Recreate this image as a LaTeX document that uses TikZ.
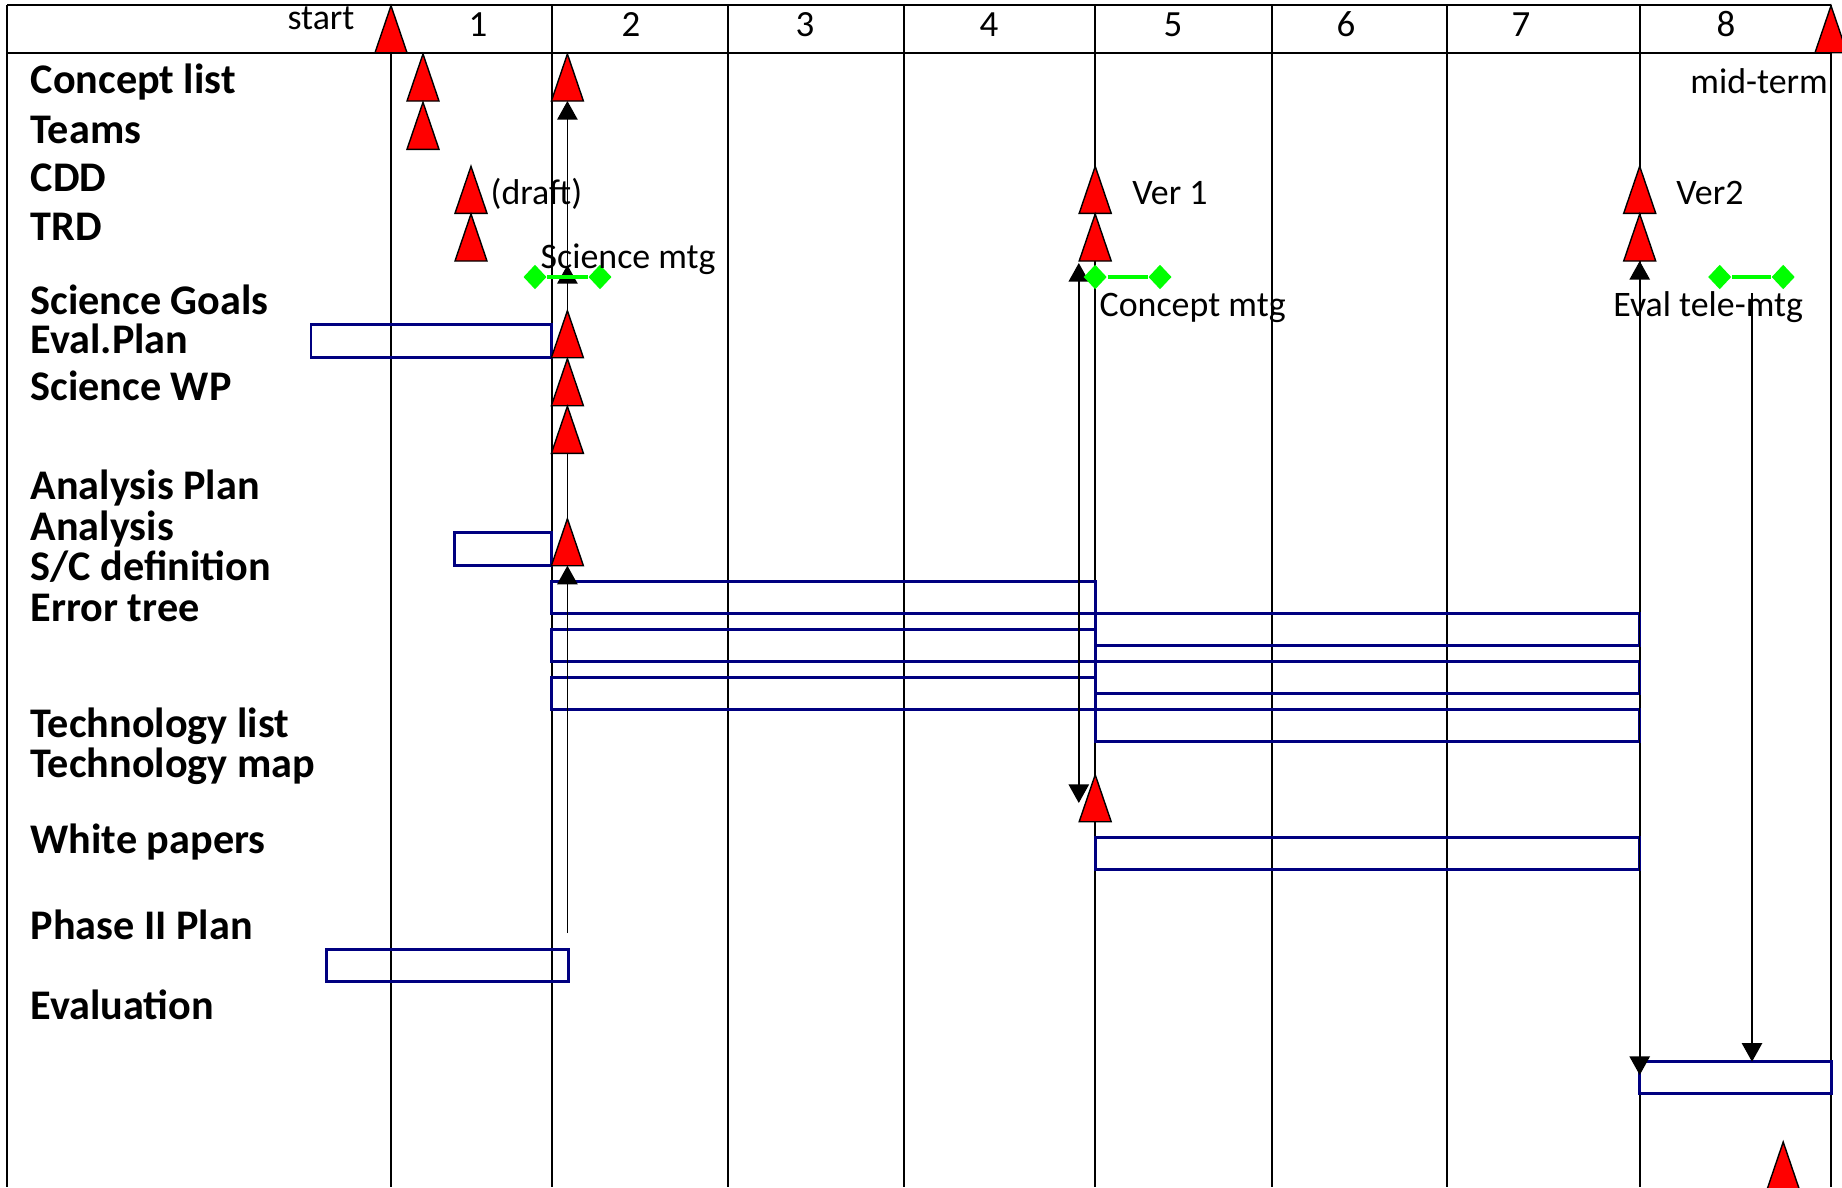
\documentclass[tikz,border=0pt]{standalone}
\usepackage{fontspec}
\setmainfont{Carlito}
\usetikzlibrary{arrows.meta,shapes.geometric}
\definecolor{taskblue}{RGB}{0,0,128}
\definecolor{meetgreen}{RGB}{0,255,0}

\begin{document}
\begin{tikzpicture}[x=0.01cm,y=-0.01cm,
  >={Triangle[length=5.3pt,width=5.8pt]},
  grid/.style={line width=0.55pt},
  mstone/.style={fill=red,draw=black,line width=0.4pt},
  task/.style={draw=taskblue,line width=0.85pt},
  meet/.style={meetgreen,line width=1.15pt},
  gem/.style={diamond,fill=meetgreen,inner sep=0pt,minimum width=0.235cm,minimum height=0.25cm},
  row/.style={anchor=base west,inner sep=0pt,font=\fontsize{12}{14}\selectfont\bfseries},
  note/.style={inner sep=0pt,font=\fontsize{10.2}{12}\selectfont}]

\useasboundingbox (0,0) rectangle (1842,1187);
\clip (0,0) rectangle (1842,1187);

\draw[grid] (7,5) -- (1831,5);
\draw[grid] (7,52.7) -- (1831,52.7);
\foreach \x in {7,391,551.6,727.6,903.7,1095.2,1271.6,1447.4,1639.7,1831}
  \draw[grid] (\x,5) -- (\x,1187);

\node[note,anchor=base] (start) at (321,29.3){start};
\foreach \n/\x in {1/478,2/631,3/805,4/989,5/1173,6/1346,7/1521,8/1726}
  \node[note,anchor=base,font=\fontsize{10.5}{12}\selectfont] (wk\n) at (\x,36){\n};

\foreach \t/\y [count=\i] in {Concept list/93,Teams/143,CDD/191.7,TRD/240,
    Science Goals/314,Eval.Plan/353.3,Science WP/400.7,Analysis Plan/499.3,
    Analysis/540,{S/C definition}/580,Error tree/621.7,Technology list/737,
    Technology map/777,White papers/853.3,Phase II Plan/939.3,Evaluation/1019.3}
  \node[row] (row\i) at (30,\y){\t};

\draw[task] (311,324.3) rectangle (551.6,357.7);
\draw[task] (454.7,532.7) rectangle (551.6,565.7);
\draw[task] (551.6,581.7) rectangle (1095.2,613.3);
\draw[task] (1095.2,613.3) rectangle (1639.7,645.3);
\draw[task] (551.6,629.3) rectangle (1095.2,661);
\draw[task] (1095.2,661) rectangle (1639.7,693.3);
\draw[task] (551.6,677.3) rectangle (1095.2,709.3);
\draw[task] (1095.2,709.3) rectangle (1639.7,741.7);
\draw[task] (1095.2,837.3) rectangle (1639.7,869.3);
\draw[task] (326.8,949) rectangle (568,981.7);
\draw[task] (1639.7,1061.7) rectangle (1831,1093.3);

\foreach \m/\x/\y in {start/391/52.7,cl1/423/101,tm1/423/149.3,cl2/567.4/101,
    cdd1/471/213.3,trd1/471/261,ep2/567.4/357.7,wp2/567.4/405.7,ap2/567.4/453.3,
    an2/567.4/565.7,v1a/1095.2/213.3,v1b/1095.2/261,v2a/1639.7/213.3,
    v2b/1639.7/261,tm5/1095.2/821.7,mid/1831/52.7,fin/1783.2/1189}
  \coordinate (\m) at (\x,\y);

\coordinate (scibot) at (567.4,933);
\coordinate (scitip) at (567.4,265);
\coordinate (cup) at (1078.8,263);
\coordinate (cdown) at (1078.8,803);
\coordinate (evl) at (1639.7,1075);
\coordinate (tele) at (1752,293);
\coordinate (telebox) at (1752,1061.7);

\draw[->] (scibot) -- (an2);
\draw[->] (an2) -- (scitip);
\draw[->] (scitip) -- (cl2);
\draw[<->] (cup) -- (cdown);
\draw[<->] (v2b) -- (evl);
\draw[->] (tele) -- (telebox);

\foreach \m in {start,cl1,tm1,cl2,cdd1,trd1,ep2,wp2,ap2,an2,v1a,v1b,v2a,v2b,tm5,mid,fin}
  \draw[mstone] (\m) ++(-16,0) -- ++(16,-47) -- ++(16,47) -- cycle;

\node[gem] (sci1) at (535,277){};
\node[gem] (sci2) at (600,277){};
\draw[meet] (sci1) -- (sci2);
\node[gem] (con1) at (1095.2,277){};
\node[gem] (con2) at (1160,277){};
\draw[meet] (con1) -- (con2);
\node[gem] (evm1) at (1719.7,277){};
\node[gem] (evm2) at (1783.2,277){};
\draw[meet] (evm1) -- (evm2);

\node[note,anchor=base west] (draft) at (490,204.5){(draft)};
\node[note,anchor=base west] (scimtg) at (540,268.3){Science mtg};
\node[note,anchor=base west] (ver1) at (1131.7,204){Ver 1};
\node[note,anchor=base west] (ver2) at (1675.6,204){Ver2};
\node[note,anchor=base east] (midterm) at (1828.5,93.3){mid-term};
\node[note,anchor=base west] (conmtg) at (1099,316.7){Concept mtg};
\node[note,anchor=base west] (evalmtg) at (1612.6,316.7){Eval tele-mtg};

\end{tikzpicture}
\end{document}
